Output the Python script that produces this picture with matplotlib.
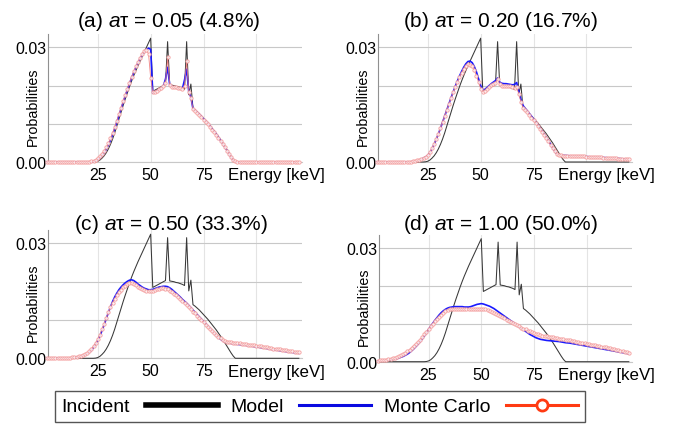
import numpy as np
import matplotlib
matplotlib.use("Agg")
import matplotlib.pyplot as plt
from matplotlib.lines import Line2D

plt.rcParams['font.family'] = ['Liberation Sans', 'DejaVu Sans']
plt.rcParams['mathtext.fontset'] = 'custom'
plt.rcParams['mathtext.rm'] = 'Liberation Sans'
plt.rcParams['mathtext.it'] = 'Liberation Sans:italic'

energy = np.arange(1, 121)  # keV, 1 keV bins

# all probabilities below are in units of 1e-3
incident = ([0] * 23 +
            [0.05, 0.2, 0.5, 1.0, 1.6, 2.4, 3.4, 4.6, 6.0, 7.6, 9.4, 11.2, 13.0, 14.8,
             16.5, 18.1, 19.7, 21.2, 22.6, 23.9, 25.2, 26.4, 27.6, 28.8, 30.0, 31.2, 32.4] +
            [18.5, 18.8, 19.1, 19.4, 19.7, 20.0, 20.3, 31.5, 20.2, 20.1,
             20.0, 19.8, 19.7, 19.5, 19.3, 19.0, 31.5, 17.6, 20.4] +
            [14.0, 13.6, 13.1, 12.6, 12.0, 11.4, 10.8, 10.2, 9.5, 8.8,
             8.1, 7.4, 6.6, 5.8, 5.0, 4.1, 3.2, 2.3, 1.4, 0.6, 0.0] +
            [0] * 30)

mc_a = ([0] * 20 +
        [0.05, 0.15, 0.3, 0.6, 1.0, 1.5, 2.1, 2.9, 3.8, 4.9,
         6.2, 7.6, 9.1, 10.8, 12.5, 14.2, 15.9, 17.6, 19.2, 20.8,
         22.3, 23.7, 25.0, 26.2, 27.3, 28.3, 29.0, 29.3, 28.3, 22.0] +
        [18.3, 18.4, 18.7, 19.0, 19.4, 19.8, 20.6, 27.4, 20.1, 19.7,
         19.6, 19.5, 19.4, 19.3, 19.2, 19.8, 26.5, 18.2, 16.8] +
        [13.9, 13.4, 12.9, 12.3, 11.7, 11.1, 10.5, 9.9, 9.2, 8.5,
         7.8, 7.1, 6.4, 5.6, 4.8, 3.9, 3.0, 2.1, 1.3, 0.6, 0.2] +
        [0.1] * 30)
model_a = ([0] * 22 +
           [0.1, 0.3, 0.6, 1.1, 1.7, 2.4, 3.3, 4.4,
            5.7, 7.1, 8.7, 10.4, 12.1, 13.9, 15.6, 17.3, 18.9, 20.5,
            22.0, 23.4, 24.7, 25.9, 27.0, 28.0, 28.8, 29.4, 29.8, 29.5] +
           [18.0, 18.3, 18.7, 19.0, 19.4, 19.9, 21.7, 24.8, 20.2, 19.8,
            19.6, 19.5, 19.4, 19.2, 19.2, 21.5, 24.3, 18.4, 17.0] +
           [13.9, 13.5, 13.0, 12.5, 11.9, 11.3, 10.7, 10.1, 9.4, 8.7,
            8.0, 7.3, 6.5, 5.7, 4.9, 4.0, 3.1, 2.2, 1.3, 0.5, 0.1] +
           [0] * 30)

mc_b = ([0] * 15 +
        [0.05, 0.1, 0.2, 0.3, 0.4, 0.6, 0.8, 1.1, 1.4, 1.8,
         2.6, 3.6, 4.8, 6.1, 7.4, 8.9, 10.5, 12.1, 13.7, 15.2,
         16.7, 18.2, 19.6, 21.0, 22.2, 23.4, 24.4, 25.2, 25.6, 25.5,
         25.0, 24.0, 22.6, 20.9, 19.2] +
        [18.3, 18.5, 19.0, 19.6, 20.1, 20.5, 20.8, 21.7, 20.3, 20.0,
         19.9, 19.9, 19.8, 19.8, 19.6, 19.4, 19.6, 17.8, 15.8] +
        [14.2, 13.6, 13.0, 12.3, 11.6, 10.9, 10.2, 9.4, 8.6, 7.8,
         7.0, 6.2, 5.4, 4.5, 3.7, 2.8, 2.0, 1.8, 1.75, 1.7, 1.7] +
        [1.65, 1.62, 1.6, 1.57, 1.55, 1.52, 1.5, 1.47, 1.44, 1.41,
         1.38, 1.35, 1.32, 1.29, 1.25, 1.22, 1.19, 1.15, 1.12, 1.08,
         1.05, 1.01, 0.97, 0.93, 0.9, 0.86, 0.82, 0.79, 0.75, 0.72])
model_b = ([0] * 16 +
           [0.05, 0.1, 0.2, 0.3, 0.5, 0.7, 1.0, 1.3, 1.7,
            2.4, 3.4, 4.6, 5.9, 7.3, 8.8, 10.4, 12.0, 13.6, 15.2,
            16.8, 18.3, 19.8, 21.2, 22.5, 23.7, 24.8, 25.7, 26.3, 26.4,
            26.0, 25.0, 23.6, 21.8, 20.0] +
           [18.9, 19.0, 19.5, 20.0, 20.5, 20.9, 21.3, 22.0, 20.9, 20.6,
            20.5, 20.5, 20.4, 20.3, 20.2, 20.3, 20.8, 18.6, 16.4] +
           [14.8, 14.1, 13.4, 12.7, 12.0, 11.3, 10.5, 9.7, 8.9, 8.1,
            7.3, 6.4, 5.6, 4.7, 3.8, 2.9, 2.1, 1.8, 1.75, 1.7, 1.7] +
           [1.66, 1.63, 1.6, 1.58, 1.55, 1.53, 1.5, 1.47, 1.44, 1.41,
            1.38, 1.35, 1.32, 1.29, 1.26, 1.23, 1.2, 1.16, 1.13, 1.1,
            1.06, 1.02, 0.98, 0.95, 0.91, 0.87, 0.83, 0.8, 0.76, 0.72])

mc_c = ([0] * 8 +
        [0.05, 0.1,
         0.15, 0.2, 0.25, 0.3, 0.4, 0.55, 0.7, 0.9, 1.2, 1.5,
         1.9, 2.5, 3.2, 4.0, 5.0, 6.2, 7.6, 9.0, 10.5, 12.0,
         13.3, 14.5, 15.5, 16.4, 17.2, 17.9, 18.5, 19.0, 19.4, 19.6,
         19.7, 19.5, 19.1, 18.7, 18.3, 18.0, 17.8, 17.6, 17.5, 17.5] +
        [17.6, 17.8, 18.0, 18.2, 18.3, 18.3, 18.2, 18.0, 17.7, 17.3,
         16.9, 16.4, 15.9, 15.4, 14.9, 14.4, 13.9, 13.3, 12.8, 12.2,
         11.7, 11.1, 10.5, 10.0, 9.4, 8.8, 8.2, 7.6, 7.1, 6.6,
         6.1, 5.6, 5.2, 4.8, 4.5, 4.3, 4.2, 4.15, 4.1, 4.0] +
        [3.95, 3.9, 3.8, 3.75, 3.7, 3.6, 3.55, 3.45, 3.4, 3.3,
         3.2, 3.1, 3.0, 2.95, 2.85, 2.75, 2.65, 2.55, 2.5, 2.4,
         2.3, 2.2, 2.1, 2.05, 1.95, 1.85, 1.8, 1.7, 1.65, 1.6])
model_c = ([0] * 10 +
           [0.05, 0.1, 0.15, 0.2, 0.3, 0.4, 0.5, 0.7, 0.9, 1.2,
            1.6, 2.1, 2.8, 3.6, 4.6, 5.8, 7.2, 8.7, 10.3, 11.9,
            13.4, 14.8, 16.0, 17.0, 17.9, 18.6, 19.2, 19.7, 20.1, 20.4,
            20.5, 20.3, 19.9, 19.4, 19.0, 18.6, 18.3, 18.1, 17.9, 17.9] +
           [18.0, 18.2, 18.4, 18.6, 18.7, 18.8, 18.8, 18.7, 18.4, 18.0,
            17.5, 17.0, 16.5, 16.0, 15.4, 14.9, 14.4, 13.8, 13.2, 12.6,
            12.0, 11.4, 10.8, 10.2, 9.6, 9.0, 8.4, 7.8, 7.2, 6.6,
            6.0, 5.5, 5.0, 4.6, 4.3, 4.1, 4.0, 3.9, 3.8, 3.7] +
           [3.65, 3.6, 3.5, 3.45, 3.4, 3.3, 3.2, 3.15, 3.05, 3.0,
            2.9, 2.8, 2.7, 2.65, 2.55, 2.45, 2.35, 2.3, 2.2, 2.1,
            2.0, 1.95, 1.85, 1.75, 1.7, 1.6, 1.55, 1.45, 1.4, 1.3])

mc_d = [0.3, 0.35, 0.4, 0.45, 0.5, 0.6, 0.7, 0.85, 1.0, 1.2,
        1.4, 1.7, 2.0, 2.4, 2.8, 3.2, 3.7, 4.2, 4.7, 5.2,
        5.8, 6.5, 7.2, 7.9, 8.6, 9.3, 10.0, 10.7, 11.3, 11.9,
        12.4, 12.9, 13.3, 13.6, 13.8, 13.9, 13.9, 13.9, 13.9, 13.9,
        13.9, 13.9, 13.9, 13.9, 13.9, 13.9, 14.0, 14.0, 14.0, 14.0,
        13.9, 13.8, 13.6, 13.4, 13.2, 12.9, 12.6, 12.3, 12.0, 11.7,
        11.4, 11.1, 10.8, 10.5, 10.2, 9.9, 9.6, 9.3, 9.0, 8.7,
        8.5, 8.2, 8.0, 7.8, 7.6, 7.4, 7.2, 7.0, 6.9, 6.8,
        6.7, 6.6, 6.5, 6.4, 6.3, 6.2, 6.1, 6.0, 5.9, 5.8,
        5.7, 5.6, 5.5, 5.4, 5.3, 5.2, 5.0, 4.9, 4.8, 4.7,
        4.6, 4.5, 4.4, 4.3, 4.2, 4.1, 4.0, 3.9, 3.8, 3.7,
        3.55, 3.45, 3.3, 3.2, 3.05, 2.9, 2.8, 2.65, 2.5, 2.4]
model_d = [0.15, 0.2, 0.25, 0.3, 0.35, 0.4, 0.5, 0.6, 0.7, 0.8,
           1.0, 1.2, 1.4, 1.7, 2.0, 2.4, 2.9, 3.4, 4.0, 4.6,
           5.3, 6.0, 6.8, 7.6, 8.5, 9.3, 10.1, 10.9, 11.6, 12.3,
           12.9, 13.4, 13.8, 14.1, 14.3, 14.4, 14.5, 14.5, 14.5, 14.5,
           14.5, 14.4, 14.4, 14.4, 14.5, 14.7, 14.9, 15.1, 15.2, 15.3,
           15.2, 15.0, 14.8, 14.6, 14.3, 14.0, 13.6, 13.2, 12.8, 12.4,
           12.0, 11.6, 11.2, 10.8, 10.4, 10.0, 9.6, 9.2, 8.8, 8.4,
           8.0, 7.6, 7.2, 6.9, 6.6, 6.3, 6.1, 5.9, 5.8, 5.7,
           5.6, 5.55, 5.5, 5.45, 5.4, 5.35, 5.3, 5.2, 5.1, 5.0,
           4.95, 4.9, 4.8, 4.7, 4.6, 4.5, 4.4, 4.3, 4.2, 4.1,
           4.0, 3.9, 3.8, 3.7, 3.6, 3.5, 3.4, 3.3, 3.2, 3.1,
           3.0, 2.9, 2.8, 2.7, 2.6, 2.5, 2.4, 2.3, 2.2, 2.1]

titles = [r'(a) $a$τ = 0.05 (4.8%)', r'(b) $a$τ = 0.20 (16.7%)',
          r'(c) $a$τ = 0.50 (33.3%)', r'(d) $a$τ = 1.00 (50.0%)']
mc_all = [mc_a, mc_b, mc_c, mc_d]
model_all = [model_a, model_b, model_c, model_d]

for s in [incident] + mc_all + model_all:
    assert len(s) == 120, len(s)

W, H = 673, 431
# axes boxes in pixels: left, top, right, bottom
boxes = [(48, 35, 302, 163), (378, 35, 632, 163),
         (48, 231, 302, 359.3), (379, 235.5, 632, 362.7)]
title_pos = [(0.474, 1.065), (0.482, 1.065), (0.484, 1.008), (0.481, 1.043)]

fig = plt.figure(figsize=(W / 100, H / 100), dpi=100)

for i, (x0, y0, x1, y1) in enumerate(boxes):
    ax = fig.add_axes([x0 / W, 1 - y1 / H, (x1 - x0) / W, (y1 - y0) / H])
    inc = np.array(incident) * 1e-3
    mod = np.array(model_all[i]) * 1e-3
    mc = np.array(mc_all[i]) * 1e-3
    ax.plot(energy, inc, color='#383838', lw=0.75, zorder=3, clip_on=False)
    ax.plot(energy, mod, color='#1a1aff', lw=1.2, zorder=4, clip_on=False)
    ax.plot(energy, mc, color='#f07878', lw=0.6, alpha=0.9, marker='o', ms=2.4,
            mfc='#fff4f4', mec='#f29494', mew=0.6, zorder=5, clip_on=False)

    ax.set_xlim(1.5, 121.5)
    ax.set_ylim(0, 0.0335)
    ax.set_xticks([25, 50, 75, 100])
    ax.set_xticklabels(['25', '50', '75', ''])
    ax.set_yticks([0, 0.01, 0.02, 0.03])
    ax.set_yticklabels(['0.00', '', '', '0.03'])
    ax.tick_params(axis='both', length=0, labelsize=11.5)
    ax.tick_params(axis='x', pad=3.5)
    ax.tick_params(axis='y', pad=1)
    ax.grid(axis='y', color='#c8c8c8', lw=0.8)
    ax.grid(axis='x', color='#e4e4e4', lw=0.8)
    ax.set_axisbelow(True)
    for side in ['top', 'right']:
        ax.spines[side].set_visible(False)
    ax.spines['left'].set_color('#909090')
    ax.spines['left'].set_linewidth(0.8)
    ax.spines['bottom'].set_color('#c8c8c8')
    ax.spines['bottom'].set_linewidth(0.8)

    ax.text(1.09, -0.135, 'Energy [keV]', transform=ax.transAxes,
            ha='right', va='baseline', fontsize=12.2)
    ax.text(-0.058, 0.44, 'Probabilities', transform=ax.transAxes,
            rotation=90, ha='center', va='center', fontsize=10.3)
    tx, ty = title_pos[i]
    ax.text(tx, ty, titles[i], transform=ax.transAxes,
            ha='center', va='baseline', fontsize=15)

handles = [Line2D([], [], color='black', lw=4),
           Line2D([], [], color='#0a0ae0', lw=2.2),
           Line2D([], [], color='#ff3a12', lw=2.2, marker='o', ms=8,
                  mfc='white', mec='#ff3a12', mew=2)]
leg = fig.legend(handles, ['Incident', 'Model', 'Monte Carlo'], loc='center',
                 bbox_to_anchor=(0.475, 0.0545), ncol=3, markerfirst=False,
                 fontsize=14, handlelength=3.7, handletextpad=0.8,
                 columnspacing=0.65, frameon=True, fancybox=False,
                 edgecolor='#555555', borderpad=0.35, framealpha=1)
leg.get_frame().set_linewidth(1.0)

fig.savefig('out.png', dpi=100)
